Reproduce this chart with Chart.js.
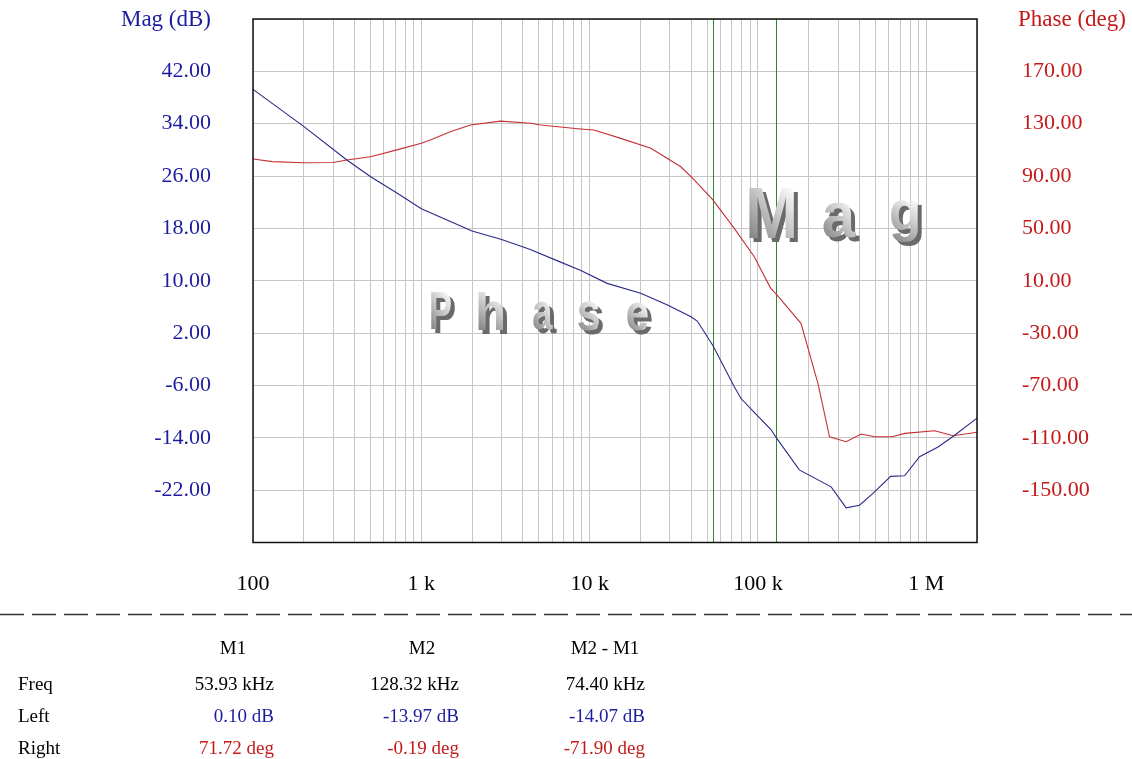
<!DOCTYPE html>
<html>
<head>
<meta charset="utf-8">
<script src="https://cdn.jsdelivr.net/npm/chart.js@4.4.1/dist/chart.umd.min.js"></script>
<style>
  html, body { margin: 0; padding: 0; background: #ffffff; }
  #wrap { position: relative; width: 1132px; height: 759px; overflow: hidden; }
  #bode { position: absolute; left: 0; top: 0; }
  .cell { position: absolute; font-family: 'Liberation Serif', 'Times New Roman', serif; font-size: 19px; line-height: 20px; white-space: nowrap; color: #000; }
  .c { transform: translateX(-50%); }
  .r { transform: translateX(-100%); }
  .mag { color: #1c1c9e; }
  .ph { color: #c41a1a; }
</style>
</head>
<body>
<div id="wrap">
  <canvas id="bode" width="1132" height="759"></canvas>
  <div id="table"></div>
</div>
<script>
// Magnitude trace (Hz, dB)
const magFreqs = [100, 200, 361, 500, 716, 1000, 1500, 2000, 3000, 4400, 6500, 8800, 12700, 20100, 29000, 40000, 43700, 53930, 72300, 79300, 95000, 119000, 128320, 176000, 272000, 334000, 401000, 482000, 614000, 743000, 912000, 1174000, 1440000, 2000000];
const magDb = [39.25, 33.6, 28.45, 25.9, 23.4, 21.0, 19.0, 17.6, 16.3, 14.8, 13.0, 11.6, 9.6, 8.1, 6.3, 4.5, 3.8, 0.10, -6.2, -8.0, -10.1, -12.7, -13.97, -18.9, -21.5, -24.7, -24.3, -22.5, -19.9, -19.8, -16.9, -15.4, -13.8, -11.0];

// Phase trace (Hz, degrees)
const phaseFreqs = [100, 130, 200, 300, 361, 500, 716, 1000, 1130, 1500, 1960, 2960, 4440, 5100, 8800, 10600, 15300, 23100, 34800, 41800, 53930, 72300, 95000, 119000, 128320, 180000, 227000, 266000, 334000, 410000, 493000, 626000, 743000, 1120000, 1340000, 1440000, 2000000];
const phaseDeg = [103, 101, 100.2, 100.4, 102.3, 104.8, 110, 115, 117.5, 124, 129, 132, 130.3, 129, 126, 125.2, 118.8, 111.2, 97.1, 87, 71.72, 50, 28.4, 4.2, -0.19, -22.5, -68.4, -109.2, -113, -107.1, -109.2, -109.2, -106.6, -104.6, -107.3, -108.4, -105.8];

// Axis ranges and tick labels
const freqRange = [100, 2000000];
const decadeLabels = { 100: '100', 1000: '1 k', 10000: '10 k', 100000: '100 k', 1000000: '1 M' };
const magRange = [-30, 50];
const magStep = 8;
const phaseRange = [-190, 210];
const phaseStep = 40;

// Cursor readout
const markerNames = ['M1', 'M2', 'M2 - M1'];
const markerFreqKHz = [53.93, 128.32, 74.40];
const markerMagDb = [0.10, -13.97, -14.07];
const markerPhaseDeg = [71.72, -0.19, -71.90];
const cursorFreqs = [53930, 128320];

const SERIF = "'Liberation Serif', 'Times New Roman', serif";
const BLUE_TXT = '#1c1c9e';
const RED_TXT = '#c41a1a';
const GRID = '#c6c6c6';

function toPoints(xs, ys) { return xs.map((x, i) => ({ x: x, y: ys[i] })); }

// Big shaded letters laid into the plot (box = left, top, right, bottom incl. shadow)
const watermarks = [
  { ch: 'M', box: [749, 188, 798, 242] },
  { ch: 'a', box: [823, 202, 860, 242] },
  { ch: 'g', box: [891, 200, 922, 246] },
  { ch: 'P', box: [431, 293, 455, 334] },
  { ch: 'h', box: [478, 292, 507, 334] },
  { ch: 'a', box: [533, 302, 557, 334] },
  { ch: 's', box: [578, 302, 603, 335] },
  { ch: 'e', box: [627, 303, 652, 335] }
];

function drawGlyph(ctx, ch, x0, y0, x1, y1, fill) {
  ctx.save();
  ctx.font = "bold 100px 'Liberation Sans', Arial, sans-serif";
  ctx.textBaseline = 'alphabetic';
  ctx.textAlign = 'left';
  const m = ctx.measureText(ch);
  const gw = m.actualBoundingBoxLeft + m.actualBoundingBoxRight;
  const gh = m.actualBoundingBoxAscent + m.actualBoundingBoxDescent;
  const sx = (x1 - x0) / gw;
  const sy = (y1 - y0) / gh;
  ctx.translate(x0 + m.actualBoundingBoxLeft * sx, y0 + m.actualBoundingBoxAscent * sy);
  ctx.scale(sx, sy);
  if (fill === 'shadow') {
    ctx.fillStyle = '#6a6a6a';
  } else {
    const g = ctx.createLinearGradient(-m.actualBoundingBoxLeft, m.actualBoundingBoxDescent, m.actualBoundingBoxRight, -m.actualBoundingBoxAscent);
    g.addColorStop(0, '#828282');
    g.addColorStop(0.5, '#c2c2c2');
    g.addColorStop(1, '#ffffff');
    ctx.fillStyle = g;
  }
  ctx.fillText(ch, 0, 0);
  ctx.restore();
}

const decorPlugin = {
  id: 'decor',
  beforeDraw(chart) {
    const ctx = chart.ctx;
    ctx.save();
    ctx.fillStyle = '#ffffff';
    ctx.fillRect(0, 0, chart.width, chart.height);
    ctx.restore();
  },
  beforeDatasetsDraw(chart) {
    const ctx = chart.ctx;
    const a = chart.chartArea;
    const xs = chart.scales.x;
    ctx.save();
    ctx.strokeStyle = '#2a8a2a';
    ctx.lineWidth = 1;
    cursorFreqs.forEach(f => {
      const px = Math.round(xs.getPixelForValue(f)) + 0.5;
      ctx.beginPath();
      ctx.moveTo(px, a.top);
      ctx.lineTo(px, a.bottom);
      ctx.stroke();
    });
    ctx.restore();
    const dx = 4, dy = 4;
    watermarks.forEach(w => {
      const [x0, y0, x1, y1] = w.box;
      drawGlyph(ctx, w.ch, x0 + dx, y0 + dy, x1, y1, 'shadow');
      drawGlyph(ctx, w.ch, x0, y0, x1 - dx, y1 - dy, 'front');
    });
  },
  afterDatasetsDraw(chart) {
    const ctx = chart.ctx;
    const a = chart.chartArea;
    ctx.save();
    ctx.strokeStyle = '#111111';
    ctx.lineWidth = 1.5;
    ctx.strokeRect(a.left, a.top, a.right - a.left, a.bottom - a.top);
    ctx.restore();
  },
  afterDraw(chart) {
    const ctx = chart.ctx;
    ctx.save();
    ctx.font = '23px ' + SERIF;
    ctx.textBaseline = 'middle';
    ctx.fillStyle = BLUE_TXT;
    ctx.textAlign = 'right';
    ctx.fillText('Mag (dB)', 211, 20);
    ctx.fillStyle = RED_TXT;
    ctx.textAlign = 'left';
    ctx.fillText('Phase (deg)', 1018, 20);
    // separator above the cursor readout
    ctx.strokeStyle = '#333333';
    ctx.lineWidth = 1.5;
    ctx.setLineDash([24, 8]);
    ctx.beginPath();
    ctx.moveTo(0, 614.5);
    ctx.lineTo(chart.width, 614.5);
    ctx.stroke();
    ctx.restore();
  }
};

const freqTicks = [];
for (let e = 2; e <= 6; e++) {
  for (let m = 1; m <= 9; m++) {
    const v = m * Math.pow(10, e);
    if (v >= freqRange[0] && v <= freqRange[1]) freqTicks.push({ value: v });
  }
}

// keep the plot frame where it belongs regardless of label padding
function fixVertical(width) {
  return s => { s.width = width; s.paddingTop = 0; s.paddingBottom = 0; };
}

new Chart(document.getElementById('bode'), {
  type: 'line',
  data: {
    datasets: [
      {
        label: 'Mag',
        data: toPoints(magFreqs, magDb),
        borderColor: '#2a2a88',
        borderWidth: 1.1,
        pointRadius: 0,
        tension: 0,
        yAxisID: 'yMag'
      },
      {
        label: 'Phase',
        data: toPoints(phaseFreqs, phaseDeg),
        borderColor: '#c63034',
        borderWidth: 1.1,
        pointRadius: 0,
        tension: 0,
        yAxisID: 'yPhase'
      }
    ]
  },
  options: {
    responsive: false,
    animation: false,
    layout: { padding: { top: 19, left: 0, right: 0, bottom: 0 } },
    plugins: { legend: { display: false }, tooltip: { enabled: false } },
    scales: {
      x: {
        type: 'logarithmic',
        min: freqRange[0],
        max: freqRange[1],
        afterBuildTicks: s => { s.ticks = freqTicks.map(t => ({ value: t.value })); },
        afterFit: s => { s.height = 216.5; s.paddingLeft = 0; s.paddingRight = 0; },
        grid: { color: GRID, lineWidth: 1, drawTicks: false },
        border: { display: false },
        ticks: {
          autoSkip: false,
          maxRotation: 0,
          minRotation: 0,
          padding: 29,
          color: '#000000',
          font: { family: SERIF, size: 22 },
          callback: v => decadeLabels[v] || ''
        }
      },
      yMag: {
        type: 'linear',
        position: 'left',
        min: magRange[0],
        max: magRange[1],
        afterFit: fixVertical(253),
        grid: { color: GRID, lineWidth: 1, drawTicks: false },
        border: { display: false },
        ticks: {
          stepSize: magStep,
          padding: 42,
          color: BLUE_TXT,
          font: { family: SERIF, size: 22 },
          callback: v => (v === magRange[0] || v === magRange[1]) ? '' : Number(v).toFixed(2)
        }
      },
      yPhase: {
        type: 'linear',
        position: 'right',
        min: phaseRange[0],
        max: phaseRange[1],
        afterFit: fixVertical(155),
        grid: { display: false, drawTicks: false },
        border: { display: false },
        ticks: {
          stepSize: phaseStep,
          padding: 45,
          color: RED_TXT,
          font: { family: SERIF, size: 22 },
          callback: v => (v === phaseRange[0] || v === phaseRange[1]) ? '' : Number(v).toFixed(2)
        }
      }
    }
  },
  plugins: [decorPlugin]
});

// Cursor readout table
(function buildTable() {
  const host = document.getElementById('table');
  const headX = [233, 422, 605];
  const valRight = [274, 459, 645];
  const rowY = { head: 638, freq: 674, left: 706, right: 738 };
  function cell(text, x, y, cls) {
    const d = document.createElement('div');
    d.className = 'cell ' + cls;
    d.style.left = x + 'px';
    d.style.top = y + 'px';
    d.textContent = text;
    host.appendChild(d);
  }
  cell('Freq', 18, rowY.freq, '');
  cell('Left', 18, rowY.left, '');
  cell('Right', 18, rowY.right, '');
  markerNames.forEach((n, i) => {
    cell(n, headX[i], rowY.head, 'c');
    cell(markerFreqKHz[i].toFixed(2) + ' kHz', valRight[i], rowY.freq, 'r');
    cell(markerMagDb[i].toFixed(2) + ' dB', valRight[i], rowY.left, 'r mag');
    cell(markerPhaseDeg[i].toFixed(2) + ' deg', valRight[i], rowY.right, 'r ph');
  });
})();
</script>
</body>
</html>
